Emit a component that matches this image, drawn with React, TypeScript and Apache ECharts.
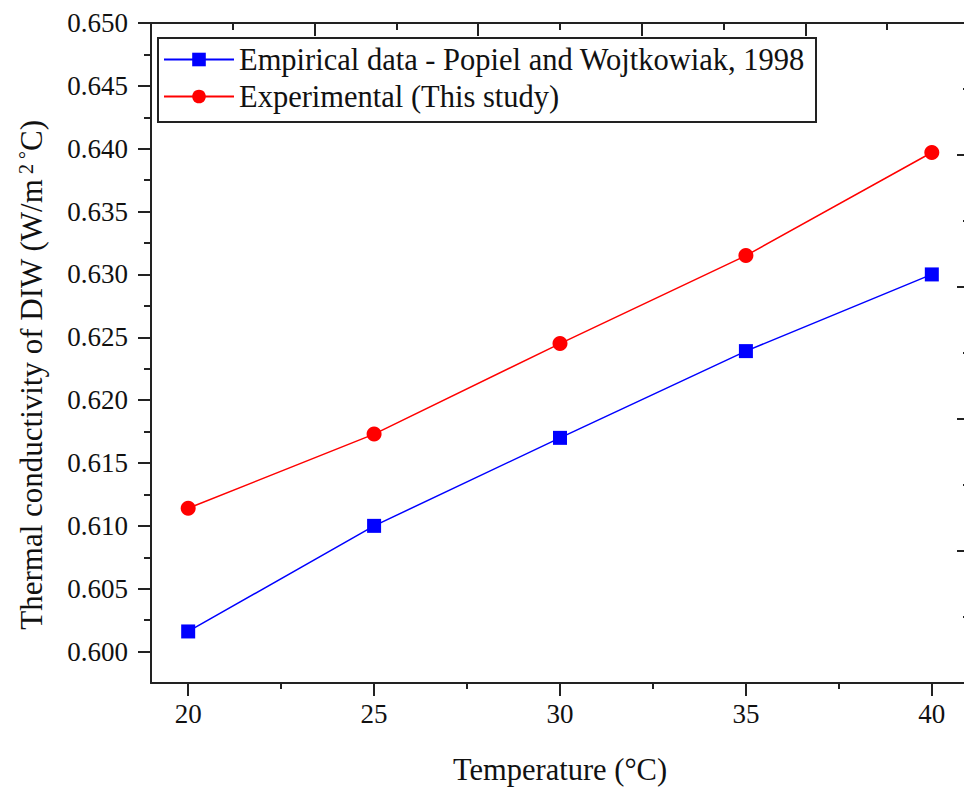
import React, { useEffect, useRef } from "react";
import * as echarts from "echarts";

const temperatures = [20, 25, 30, 35, 40];
const empirical = [0.6016, 0.61, 0.617, 0.6239, 0.63];
const experimental = [0.6114, 0.6173, 0.6245, 0.6315, 0.6397];
const xMajorTicks = [20, 25, 30, 35, 40];
const xMinorTicks = [22.5, 27.5, 32.5, 37.5];
const yMajorTicks = [0.6, 0.605, 0.61, 0.615, 0.62, 0.625, 0.63, 0.635, 0.64, 0.645, 0.65];
const yMinorTicks = [0.6025, 0.6075, 0.6125, 0.6175, 0.6225, 0.6275, 0.6325, 0.6375, 0.6425, 0.6475];
const seriesNames = ["Empirical data - Popiel and Wojtkowiak, 1998", "Experimental (This study)"];

const FONT = "Liberation Serif";
const AX = "#222";
const TXT = "#111";

export default function App() {
  const ref = useRef<HTMLDivElement>(null);
  useEffect(() => {
    if (!ref.current) return;
    const chart = echarts.init(ref.current, null, { renderer: "svg" });
    const hidden = { show: false };
    chart.setOption({
      animation: false,
      backgroundColor: "#fff",
      textStyle: { fontFamily: FONT, color: TXT },
      grid: { left: 151, top: 23, width: 818, height: 660, containLabel: false, outerBoundsMode: "none" },
      legend: {
        orient: "vertical",
        left: 163,
        top: 44,
        padding: 0,
        itemWidth: 70,
        itemHeight: 17,
        itemGap: 6,
        textStyle: { fontFamily: FONT, fontSize: 30.5, color: TXT },
        data: seriesNames,
      },
      graphic: [
        {
          type: "rect",
          shape: { x: 158, y: 38, width: 658, height: 84 },
          style: { fill: "none", stroke: AX, lineWidth: 2 },
          z: 100,
        },
      ],
      xAxis: [
        {
          type: "value",
          position: "bottom",
          min: 19,
          max: 41,
          splitLine: hidden,
          axisLine: { show: true, lineStyle: { color: AX, width: 2 } },
          axisTick: { show: true, customValues: xMajorTicks, length: 13, lineStyle: { color: AX, width: 2 } },
          axisLabel: {
            customValues: xMajorTicks,
            margin: 17,
            fontSize: 27,
            fontFamily: FONT,
            color: TXT,
          },
          name: "Temperature (°C)",
          nameLocation: "middle",
          nameGap: 71,
          nameTextStyle: { fontSize: 30.5, fontFamily: FONT, color: TXT },
        },
        {
          type: "value",
          position: "bottom",
          min: 19,
          max: 41,
          splitLine: hidden,
          axisLine: hidden,
          axisTick: { show: true, customValues: xMinorTicks, length: 6, lineStyle: { color: AX, width: 2 } },
          axisLabel: hidden,
        },
        {
          type: "value",
          position: "top",
          min: 0,
          max: 10,
          interval: 2,
          splitLine: hidden,
          axisLine: { show: true, lineStyle: { color: AX, width: 2 } },
          axisTick: { show: true, inside: true, length: 13, lineStyle: { color: AX, width: 2 } },
          minorTick: { show: true, splitNumber: 2, length: 7, lineStyle: { color: AX, width: 2 } },
          axisLabel: hidden,
        },
      ],
      yAxis: [
        {
          type: "value",
          position: "left",
          min: 0.5975,
          max: 0.65,
          splitLine: hidden,
          axisLine: { show: true, lineStyle: { color: AX, width: 2 } },
          axisTick: { show: true, customValues: yMajorTicks, length: 13, lineStyle: { color: AX, width: 2 } },
          axisLabel: {
            customValues: yMajorTicks,
            margin: 23,
            fontSize: 27,
            fontFamily: FONT,
            color: TXT,
            formatter: (v: number) => v.toFixed(3),
          },
          name: "{t|Thermal conductivity of DIW (W/m}{s| 2 °}{t|C)}",
          nameLocation: "middle",
          nameGap: 104,
          nameTextStyle: {
            fontFamily: FONT,
            color: TXT,
            padding: [0, 44, 0, 0],
            rich: {
              t: { fontSize: 31, fontFamily: FONT, color: TXT },
              s: { fontSize: 20, fontFamily: FONT, color: TXT, verticalAlign: "top" },
            },
          },
        },
        {
          type: "value",
          position: "left",
          min: 0.5975,
          max: 0.65,
          splitLine: hidden,
          axisLine: hidden,
          axisTick: { show: true, customValues: yMinorTicks, length: 7, lineStyle: { color: AX, width: 2 } },
          axisLabel: hidden,
        },
        {
          type: "value",
          position: "right",
          min: 0,
          max: 5,
          interval: 1,
          splitLine: hidden,
          axisLine: { show: true, lineStyle: { color: AX, width: 2 } },
          axisTick: { show: true, inside: true, length: 12, lineStyle: { color: AX, width: 2 } },
          minorTick: { show: true, splitNumber: 2, length: 6, lineStyle: { color: AX, width: 2 } },
          axisLabel: hidden,
        },
      ],
      series: [
        {
          name: seriesNames[0],
          type: "line",
          xAxisIndex: 0,
          yAxisIndex: 0,
          data: temperatures.map((t, i) => [t, empirical[i]]),
          symbol: "rect",
          symbolSize: 14,
          color: "#0000ff",
          lineStyle: { color: "#0000ff", width: 1.5 },
          itemStyle: { color: "#0000ff" },
        },
        {
          name: seriesNames[1],
          type: "line",
          xAxisIndex: 0,
          yAxisIndex: 0,
          data: temperatures.map((t, i) => [t, experimental[i]]),
          symbol: "circle",
          symbolSize: 15,
          color: "#ff0000",
          lineStyle: { color: "#ff0000", width: 1.5 },
          itemStyle: { color: "#ff0000" },
        },
      ],
    });
    return () => chart.dispose();
  }, []);
  return (
    <div
      ref={ref}
      style={{ position: "absolute", left: 0, top: 0, width: 964, height: 792 }}
    />
  );
}
